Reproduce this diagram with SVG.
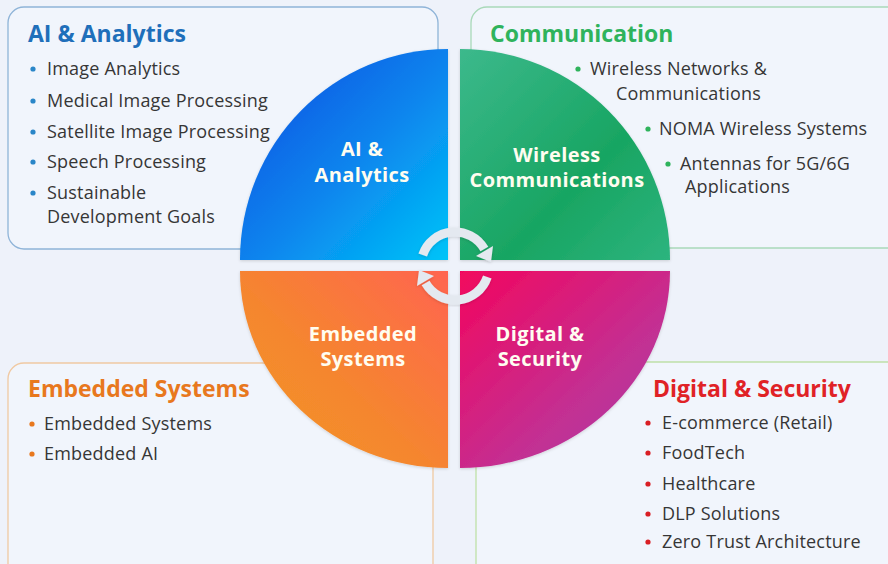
<svg xmlns="http://www.w3.org/2000/svg" width="888" height="564" viewBox="0 0 888 564">
<defs>
<linearGradient id="gBlue" x1="0" y1="0" x2="1" y2="1"><stop offset="0" stop-color="#0848e0"/><stop offset="0.55" stop-color="#0a86ee"/><stop offset="1" stop-color="#00c4f8"/></linearGradient>
<linearGradient id="gGreen" x1="0" y1="0" x2="1" y2="1"><stop offset="0" stop-color="#3cb98c"/><stop offset="0.6" stop-color="#18a562"/><stop offset="1" stop-color="#2db47e"/></linearGradient>
<linearGradient id="gOrange" x1="1" y1="0" x2="0" y2="1"><stop offset="0" stop-color="#ff6450"/><stop offset="0.55" stop-color="#f5862e"/><stop offset="1" stop-color="#f29828"/></linearGradient>
<linearGradient id="gPink" x1="0" y1="0" x2="1" y2="1"><stop offset="0" stop-color="#f2065e"/><stop offset="0.6" stop-color="#c42f92"/><stop offset="1" stop-color="#a83fa8"/></linearGradient>
<filter id="sh" x="-10%" y="-10%" width="120%" height="120%"><feDropShadow dx="0" dy="1" stdDeviation="1.5" flood-color="#000" flood-opacity="0.15"/></filter>
</defs>
<style>
.box{fill:#f1f5fc;stroke-width:1.3}
.title{font-family:"Open Sans","Liberation Sans",sans-serif;font-weight:700;font-size:23px}
.item{font-family:"Open Sans","Liberation Sans",sans-serif;font-size:18px;letter-spacing:0.2px;fill:#363636}
.q{font-family:"Open Sans","Liberation Sans",sans-serif;font-weight:700;font-size:20px;letter-spacing:0.4px;fill:#fffdf0;text-anchor:middle}
.arc{fill:none;stroke:#e4e9f0;stroke-width:9}
.head{fill:#e4e9f0}
</style>
<rect width="888" height="564" fill="#eef2fa"/>

<g id="panel-ai">
<rect class="box" x="8" y="7" width="430" height="242" rx="16" stroke="#8fb4d8"/>
<text class="title" x="28" y="42" fill="#1f6fba">AI &amp; Analytics</text>
<g fill="#2a86c8"><circle cx="33" cy="69" r="2.6"/><circle cx="33" cy="101" r="2.6"/><circle cx="33" cy="132" r="2.6"/><circle cx="33" cy="162" r="2.6"/><circle cx="33" cy="193" r="2.6"/></g>
<text class="item" x="47" y="75">Image Analytics</text>
<text class="item" x="47" y="107">Medical Image Processing</text>
<text class="item" x="47" y="138">Satellite Image Processing</text>
<text class="item" x="47" y="168">Speech Processing</text>
<text class="item" x="47" y="199">Sustainable</text>
<text class="item" x="47" y="223">Development Goals</text>
</g>

<g id="panel-comm">
<rect class="box" x="471" y="7" width="440" height="241" rx="16" stroke="#a9d9b9"/>
<text class="title" x="490" y="42" fill="#2fb35c">Communication</text>
<g fill="#2fb35c"><circle cx="578" cy="69" r="2.6"/><circle cx="648" cy="129" r="2.6"/><circle cx="668" cy="164" r="2.6"/></g>
<text class="item" x="590" y="75">Wireless Networks &amp;</text>
<text class="item" x="616" y="100">Communications</text>
<text class="item" x="659" y="135">NOMA Wireless Systems</text>
<text class="item" x="680" y="170">Antennas for 5G/6G</text>
<text class="item" x="685" y="193">Applications</text>
</g>

<g id="panel-embedded">
<rect class="box" x="8" y="363" width="425" height="220" rx="16" stroke="#f0c9a2"/>
<text class="title" x="28" y="397" fill="#e8781e">Embedded Systems</text>
<g fill="#e8781e"><circle cx="32" cy="424" r="2.6"/><circle cx="32" cy="454" r="2.6"/></g>
<text class="item" x="44" y="430">Embedded Systems</text>
<text class="item" x="44" y="460">Embedded AI</text>
</g>

<g id="panel-digital">
<rect class="box" x="476" y="362" width="440" height="220" rx="16" stroke="#bfe0a8"/>
<text class="title" x="653" y="397" fill="#e02226">Digital &amp; Security</text>
<g fill="#d91e24"><circle cx="648" cy="423" r="2.6"/><circle cx="648" cy="453" r="2.6"/><circle cx="648" cy="484" r="2.6"/><circle cx="648" cy="514" r="2.6"/><circle cx="648" cy="542" r="2.6"/></g>
<text class="item" x="662" y="429">E-commerce (Retail)</text>
<text class="item" x="662" y="459">FoodTech</text>
<text class="item" x="662" y="490">Healthcare</text>
<text class="item" x="662" y="520">DLP Solutions</text>
<text class="item" x="662" y="548">Zero Trust Architecture</text>
</g>

<g id="quad-ai">
<path d="M448,260 L240,260 A208,211 0 0 1 448,49 Z" fill="url(#gBlue)" filter="url(#sh)"/>
<text class="q" x="362" y="156">AI &amp;</text>
<text class="q" x="362" y="182">Analytics</text>
</g>
<g id="quad-wireless">
<path d="M460,260 L460,49 A210,211 0 0 1 670,260 Z" fill="url(#gGreen)" filter="url(#sh)"/>
<text class="q" x="557" y="162">Wireless</text>
<text class="q" x="557" y="187">Communications</text>
</g>
<g id="quad-embedded">
<path d="M448,271 L448,468 A208,197 0 0 1 240,271 Z" fill="url(#gOrange)" filter="url(#sh)"/>
<text class="q" x="363" y="341">Embedded</text>
<text class="q" x="363" y="366">Systems</text>
</g>
<g id="quad-digital">
<path d="M460,271 L670,271 A210,197 0 0 1 460,468 Z" fill="url(#gPink)" filter="url(#sh)"/>
<text class="q" x="540" y="341">Digital &amp;</text>
<text class="q" x="540" y="366">Security</text>
</g>

<g id="connectors" filter="url(#sh)">
<path class="arc" d="M422.7,255 A34,34 0 0 1 484.4,249"/>
<polygon class="head" points="476,256 493,246 491,262"/>
<path class="arc" d="M487.3,277 A34,34 0 0 1 425.6,283"/>
<polygon class="head" points="434,276 417,286 419,270"/>
</g>
</svg>
